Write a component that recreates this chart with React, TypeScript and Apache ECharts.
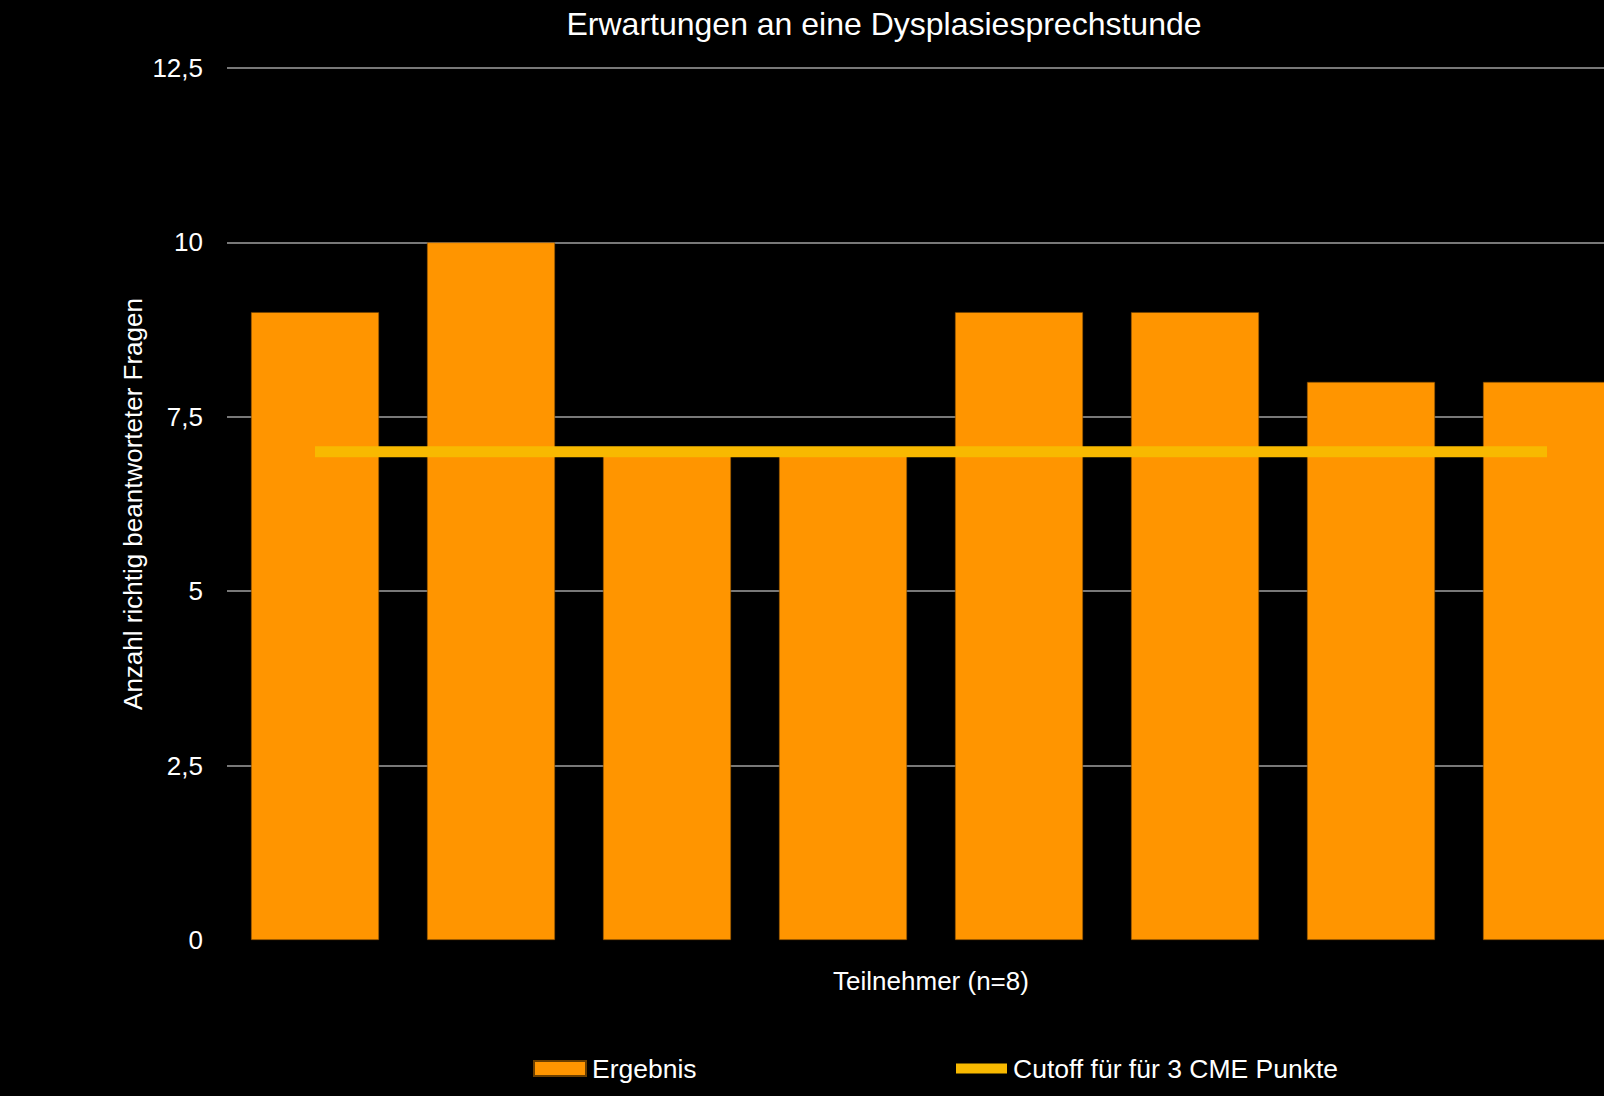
import React, { useEffect, useRef } from "react";
import * as echarts from "echarts";

const categories = ["1", "2", "3", "4", "5", "6", "7", "8"];
const ergebnis = [9, 10, 7, 7, 9, 9, 8, 8];
const cutoff = [7, 7, 7, 7, 7, 7, 7, 7];
const yTicks = { min: 0, max: 12.5, interval: 2.5 };
const titleText = "Erwartungen an eine Dysplasiesprechstunde";
const yName = "Anzahl richtig beantworteter Fragen";
const xName = "Teilnehmer (n=8)";
const seriesNames = ["Ergebnis", "Cutoff für für 3 CME Punkte"];

const FONT = "'Liberation Sans', Arial, sans-serif";

export default function App() {
  const ref = useRef<HTMLDivElement>(null);
  useEffect(() => {
    document.body.style.margin = "0";
    document.body.style.background = "#000";
    document.body.style.overflow = "hidden";
    const chart = echarts.init(ref.current!, undefined, { renderer: "svg" });
    chart.setOption({
      animation: false,
      backgroundColor: "#000",
      textStyle: { fontFamily: FONT },
      title: {
        text: titleText,
        left: 879,
        top: 3,
        textAlign: "center",
        textStyle: { color: "#fff", fontSize: 32, fontWeight: "normal", fontFamily: FONT },
      },
      legend: [
        {
          data: [seriesNames[0]],
          left: 533,
          top: 1055,
          itemWidth: 52,
          itemHeight: 15,
          itemGap: 0,
          icon: "rect",
          textStyle: { color: "#fff", fontSize: 26.5, fontFamily: FONT, padding: [0, 0, 0, 1] },
          padding: 0,
        },
        {
          data: [seriesNames[1]],
          left: 956,
          top: 1055,
          itemWidth: 51,
          itemHeight: 10,
          icon: "rect",
          textStyle: { color: "#fff", fontSize: 26.5, fontFamily: FONT, padding: [0, 0, 0, 1] },
          padding: 0,
        },
      ],
      grid: { left: 227, top: 68, width: 1408, height: 872 },
      xAxis: {
        type: "category",
        data: categories,
        name: xName,
        nameLocation: "middle",
        nameGap: 28,
        nameMoveOverlap: false,
        nameTextStyle: { color: "#fff", fontSize: 26, fontFamily: FONT },
        axisLine: { show: false },
        axisTick: { show: false },
        axisLabel: { show: false },
      },
      yAxis: {
        type: "value",
        min: yTicks.min,
        max: yTicks.max,
        interval: yTicks.interval,
        name: yName,
        nameLocation: "middle",
        nameGap: 81,
        nameMoveOverlap: false,
        nameTextStyle: { color: "#fff", fontSize: 26, fontFamily: FONT },
        axisLine: { show: false },
        axisTick: { show: false },
        axisLabel: {
          color: "#fff",
          fontSize: 26,
          fontFamily: FONT,
          margin: 24,
          formatter: (v: number) => String(v).replace(".", ","),
        },
        splitLine: {
          lineStyle: {
            color: ["rgba(0,0,0,0)", "#a0a0a0", "#a0a0a0", "#a0a0a0", "#a0a0a0", "#a0a0a0"],
            width: 1.5,
          },
        },
      },
      series: [
        {
          name: seriesNames[0],
          type: "bar",
          data: ergebnis,
          barWidth: 128,
          itemStyle: { color: "#FF9500", borderColor: "#6b3f00", borderWidth: 0.5 },
        },
        {
          name: seriesNames[1],
          type: "line",
          data: cutoff,
          symbol: "none",
          z: 5,
          lineStyle: { color: "#F8B900", width: 11, cap: "butt" },
          itemStyle: { color: "#F8B900" },
        },
      ],
    });
    return () => chart.dispose();
  }, []);
  return (
    <div
      ref={ref}
      style={{ position: "fixed", left: 0, top: 0, width: 1640, height: 1096, background: "#000" }}
    />
  );
}
